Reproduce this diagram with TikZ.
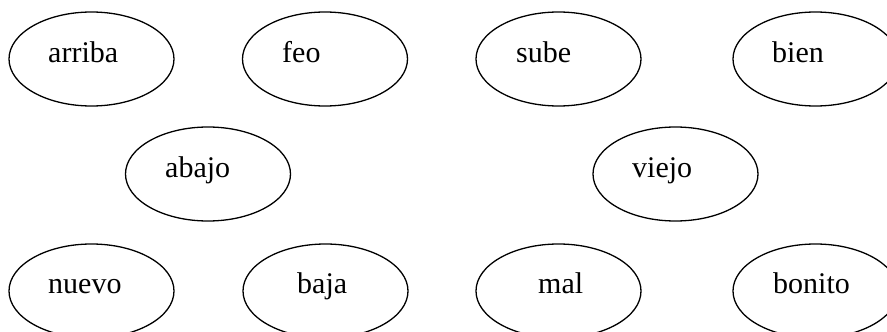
\documentclass[tikz,border=0pt]{standalone}
\usepackage{fontspec}
\setmainfont{Liberation Serif}
\usetikzlibrary{shapes.geometric}
\tikzset{
  oval/.style={draw=black, line width=1.3pt, ellipse, minimum width=165pt, minimum height=94pt, inner sep=0pt},
  word/.style={anchor=base west, inner sep=0pt, font=\fontsize{30pt}{36pt}\selectfont}
}
\begin{document}
\begin{tikzpicture}[x=1pt, y=-1pt]
\useasboundingbox (0,0) rectangle (887,332);
\clip (0,0) rectangle (887,332);
% row 1
\node[oval] (arriba) at (91.5,59) {};
\node[oval] (feo) at (325,59) {};
\node[oval] (sube) at (558.5,59) {};
\node[oval] (bien) at (815.5,59) {};
\node[word] (arribaT) at (48,62.5) {arriba};
\node[word] (feoT) at (282,62.5) {feo};
\node[word] (subeT) at (516,62.5) {sube};
\node[word] (bienT) at (772,62.5) {bien};
% row 2
\node[oval] (abajo) at (208,174) {};
\node[oval] (viejo) at (675.5,174) {};
\node[word] (abajoT) at (165,177) {abajo};
\node[word] (viejoT) at (632,177) {viejo};
% row 3
\node[oval] (nuevo) at (91.5,291) {};
\node[oval] (baja) at (325.5,291) {};
\node[oval] (mal) at (558.5,291) {};
\node[oval] (bonito) at (815.5,291) {};
\node[word] (nuevoT) at (48,293.5) {nuevo};
\node[word] (bajaT) at (297,293.5) {baja};
\node[word] (malT) at (538,293.5) {mal};
\node[word] (bonitoT) at (773,293.5) {bonito};
\end{tikzpicture}
\end{document}
